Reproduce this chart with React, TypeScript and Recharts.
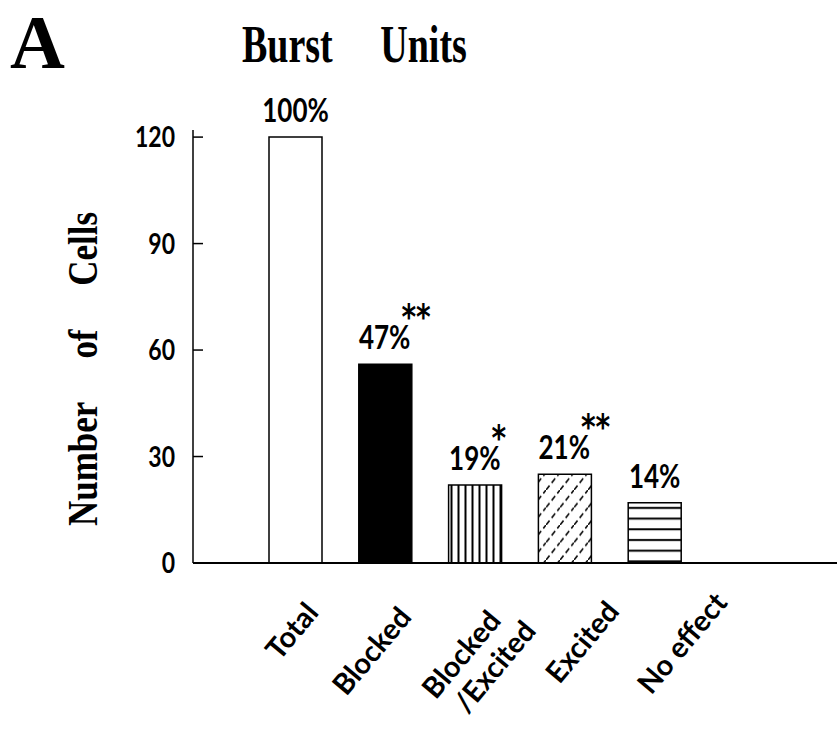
import { Bar, BarChart, Cell, LabelList, XAxis, YAxis } from "recharts";

const categories = ["Total", "Blocked", "Blocked/Excited", "Excited", "No effect"];
const cellCounts = [120, 56, 22, 25, 17];
const percentLabels = ["100%", "47%", "19%", "21%", "14%"];
const significance = ["", "**", "*", "**", ""];
const yTicks = [0, 30, 60, 90, 120];

const data = categories.map((name, i) => ({
  name,
  count: cellCounts[i],
  pct: percentLabels[i],
  sig: significance[i],
}));

const fills = ["#fff", "#000", "url(#vlines)", "url(#hatch)", "url(#hlines)"];
// where each rotated category label sits relative to its tick
const labelShift = [
  [-4, 68],
  [-14, 88],
  [3, 98],
  [17, 79],
  [27, 80],
];

const SANS = "Lato, 'Open Sans', sans-serif";
const SERIF = "'Liberation Serif', 'DejaVu Serif', serif";
const SY = 1.25;
const STAR_SIZE = 28;
const STAR_PULL = -9;

function Tall({ x, y, sy = SY, rotate = 0, anchor = "middle", size, family = SANS, children }: any) {
  const scale = sy !== 1 ? ` scale(1,${sy})` : "";
  return (
    <text
      transform={`translate(${x},${y})${rotate ? ` rotate(${rotate})` : ""}${scale}`}
      textAnchor={anchor}
      fontSize={size}
      fontFamily={family}
      fontWeight="bold"
      fill="#000"
      style={{ whiteSpace: "pre" }}
    >
      {children}
    </text>
  );
}

function XTick({ x, y, payload, index }: any) {
  const [dx, dy] = labelShift[index] || [0, 70];
  const lines = String(payload.value).split(/(?=\/)/);
  return (
    <Tall x={x + dx} y={y + dy} sy={1} rotate={-50} size={29}>
      {lines.length === 1 ? (
        <tspan x={0} dy="0.35em">{lines[0]}</tspan>
      ) : (
        lines.map((l, i) => (
          <tspan key={i} x={i * 12 - 6} dy={i === 0 ? "-0.25em" : "1.15em"}>
            {l}
          </tspan>
        ))
      )}
    </Tall>
  );
}

function YTick({ x, y, payload }: any) {
  return (
    <Tall x={x} y={y + 10} anchor="end" size={23}>
      {payload.value}
    </Tall>
  );
}

function TopLabel({ x, y, width, index }: any) {
  const sig = significance[index];
  // the stars trail the percentage, so re-centre the percentage on the bar
  const extra = sig ? (sig.length * STAR_SIZE * 0.5 + STAR_PULL) / 2 : 0;
  const cx = x + width / 2 + extra;
  return (
    <Tall x={cx} y={y - 15} size={26}>
      {percentLabels[index]}
      {sig && (
        <tspan dx={STAR_PULL} dy={-16} fontSize={STAR_SIZE} fontFamily="'DejaVu Sans', sans-serif">
          {sig}
        </tspan>
      )}
    </Tall>
  );
}

export default function App() {
  return (
    <div style={{ position: "absolute", left: 0, top: 0, width: 837, height: 739, background: "#fff" }}>
      <svg width={0} height={0} style={{ position: "absolute" }}>
        <defs>
          <pattern id="vlines" patternUnits="userSpaceOnUse" width={7} height={10}>
            <rect width={7} height={10} fill="#fff" />
            <line x1={3.5} y1={0} x2={3.5} y2={10} stroke="#000" strokeWidth={2} />
          </pattern>
          <pattern id="hlines" patternUnits="userSpaceOnUse" width={10} height={10.7}>
            <rect width={10} height={10.7} fill="#fff" />
            <line x1={0} y1={5} x2={10} y2={5} stroke="#000" strokeWidth={2} />
          </pattern>
          <pattern id="hatch" patternUnits="userSpaceOnUse" width={14} height={14} patternTransform="scale(1,1.25)">
            <rect width={14} height={14} fill="#fff" />
            <path
              d="M0,14 L14,0 M-4,4 L4,-4 M10,18 L18,10"
              stroke="#111"
              strokeWidth={1.5}
              strokeDasharray="5 3"
            />
          </pattern>
        </defs>
      </svg>
      <svg width={837} height={739} style={{ position: "absolute", left: 0, top: 0 }}>
        <text x={10} y={68} fontSize={76} fontFamily={SERIF} fontWeight="bold" fill="#000">
          A
        </text>
        <Tall x={242} y={62} sy={1.4} anchor="start" size={38} family={SERIF}>
          {"Burst     Units"}
        </Tall>
        <Tall x={97} y={369} sy={1.2} rotate={-90} size={35} family={SERIF}>
          {"Number     of     Cells"}
        </Tall>
      </svg>
      <div style={{ position: "absolute", left: 0, top: 0 }}>
        <BarChart
          width={837}
          height={739}
          data={data}
          margin={{ top: 130, right: 0, bottom: 146, left: 133 }}
        >
          <XAxis
            dataKey="name"
            height={30}
            padding={{ left: 58, right: 137 }}
            axisLine={{ stroke: "#000", strokeWidth: 2 }}
            tickLine={false}
            tickSize={0}
            tickMargin={0}
            tick={<XTick />}
            interval={0}
          />
          <YAxis
            width={60}
            domain={[0, 122]}
            ticks={yTicks}
            axisLine={{ stroke: "#000", strokeWidth: 1.5 }}
            tickLine={{ stroke: "#000", strokeWidth: 1.5 }}
            tickSize={-10}
            tickMargin={28}
            tick={<YTick />}
          />
          <Bar dataKey="count" barSize={53} stroke="#000" strokeWidth={1.5} isAnimationActive={false}>
            {data.map((d, i) => (
              <Cell key={d.name} fill={fills[i]} />
            ))}
            <LabelList dataKey="pct" content={<TopLabel />} />
          </Bar>
        </BarChart>
      </div>
    </div>
  );
}
